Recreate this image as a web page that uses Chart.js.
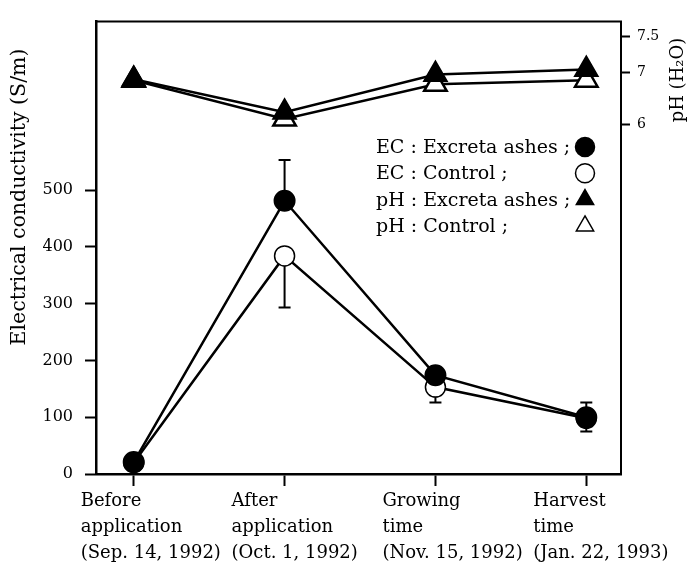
<!DOCTYPE html>
<html>
<head>
<meta charset="utf-8">
<script src="https://cdn.jsdelivr.net/npm/chart.js@4/dist/chart.umd.min.js"></script>
<style>
  html, body { margin: 0; padding: 0; background: #fff; }
  canvas { display: block; }
</style>
</head>
<body>
<canvas id="chart" width="688" height="563"></canvas>
<script>
// sampling stages on the x axis
const stages = [['Before', 'application'], ['After', 'application'], ['Growing', 'time'], ['Harvest', 'time']];
const dates = ['(Sep. 14, 1992)', '(Oct. 1, 1992)', '(Nov. 15, 1992)', '(Jan. 22, 1993)'];

// electrical conductivity (S/m)
const ecExcreta = [21, 481, 174, 100];
const ecControl = [20, 384, 153, 98];
const ecExcretaErr = [0, 72, 0, 26];   // drawn upward
const ecControlErr = [0, 91, 27, 23];  // drawn downward

// pH (H2O)
const phExcreta = [6.87, 6.23, 6.96, 7.04];
const phControl = [6.85, 6.10, 6.77, 6.85];

const ecTicks = [0, 100, 200, 300, 400, 500];
const phTicks = [6, 7, 7.5];

const FONT = 'DejaVu Serif';
Chart.defaults.font.family = FONT;
Chart.defaults.color = '#000';

// the pH axis in the figure is spaced wider above 7 than below it
const PH_KNEE = 7;
const PH_STRETCH = 1.385;
class PhScale extends Chart.LinearScale {
    static id = 'phscale';
    getPixelForValue(value) {
        if (value === null || value === undefined || isNaN(value)) return NaN;
        const v = value > PH_KNEE ? PH_KNEE + (value - PH_KNEE) * PH_STRETCH : value;
        return super.getPixelForValue(v);
    }
}
Chart.register(PhScale);

const toPoints = arr => arr.map((v, i) => ({ x: i, y: v }));

// top edge of the frame
const framePlugin = {
    id: 'frame',
    beforeDatasetsDraw(chart) {
        const { ctx, chartArea } = chart;
        ctx.save();
        ctx.strokeStyle = '#000';
        ctx.lineWidth = 2;
        ctx.beginPath();
        ctx.moveTo(chartArea.left, chartArea.top);
        ctx.lineTo(chartArea.right + 1, chartArea.top);
        ctx.stroke();
        ctx.restore();
    }
};

// one-sided error bars
const errorBarPlugin = {
    id: 'errorBars',
    beforeDatasetsDraw(chart) {
        const ctx = chart.ctx;
        const xs = chart.scales.x;
        ctx.save();
        ctx.strokeStyle = '#000';
        ctx.lineWidth = 2;
        chart.data.datasets.forEach(ds => {
            if (!ds.errors) return;
            const ys = chart.scales[ds.yAxisID];
            ds.errors.forEach((e, i) => {
                if (!e) return;
                const x = xs.getPixelForValue(i);
                const v = ds.data[i].y;
                const y0 = ys.getPixelForValue(v);
                const y1 = ys.getPixelForValue(v + ds.errorDir * e);
                ctx.beginPath();
                ctx.moveTo(x, y0);
                ctx.lineTo(x, y1);
                ctx.moveTo(x - 6, y1);
                ctx.lineTo(x + 6, y1);
                ctx.stroke();
            });
        });
        ctx.restore();
    }
};

// both axis titles read bottom-to-top
const axisTitlePlugin = {
    id: 'axisTitles',
    afterDraw(chart, args, opts) {
        const ctx = chart.ctx;
        ctx.save();
        ctx.fillStyle = '#000';
        ctx.textAlign = 'center';
        ctx.textBaseline = 'middle';
        opts.items.forEach(t => {
            ctx.save();
            ctx.font = t.size + 'px "' + FONT + '"';
            ctx.translate(t.x, t.y);
            ctx.rotate(-Math.PI / 2);
            ctx.fillText(t.text, 0, 0);
            ctx.restore();
        });
        ctx.restore();
    }
};

// legend: text on the left, symbol in a column on the right
const legendPlugin = {
    id: 'sideLegend',
    afterDraw(chart, args, opts) {
        const ctx = chart.ctx;
        ctx.save();
        ctx.font = opts.size + 'px "' + FONT + '"';
        ctx.textAlign = 'left';
        ctx.textBaseline = 'alphabetic';
        chart.data.datasets.forEach((ds, i) => {
            const y = opts.y + i * opts.rowHeight;
            ctx.fillStyle = '#000';
            ctx.fillText(ds.label, opts.x, y);
            ctx.fillStyle = ds.pointBackgroundColor;
            ctx.strokeStyle = '#000';
            ctx.lineWidth = 1.5;
            Chart.helpers.drawPoint(ctx, {
                pointStyle: ds.pointStyle,
                rotation: 0,
                radius: ds.pointStyle === 'triangle' ? 10 : 9.5,
                borderWidth: 1.5
            }, opts.symbolX, y - 6);
        });
        ctx.restore();
    }
};

new Chart(document.getElementById('chart'), {
    type: 'line',
    data: {
        datasets: [{
            label: 'EC : Excreta ashes ;',
            data: toPoints(ecExcreta),
            yAxisID: 'ec',
            pointStyle: 'circle',
            pointRadius: 10,
            pointBackgroundColor: '#000',
            errors: ecExcretaErr,
            errorDir: 1
        }, {
            label: 'EC : Control ;',
            data: toPoints(ecControl),
            yAxisID: 'ec',
            pointStyle: 'circle',
            pointRadius: 10,
            pointBorderWidth: 1.5,
            pointBackgroundColor: '#fff',
            errors: ecControlErr,
            errorDir: -1
        }, {
            label: 'pH : Excreta ashes ;',
            data: toPoints(phExcreta),
            yAxisID: 'ph',
            pointStyle: 'triangle',
            pointRadius: 13,
            pointBackgroundColor: '#000'
        }, {
            label: 'pH : Control ;',
            data: toPoints(phControl),
            yAxisID: 'ph',
            pointStyle: 'triangle',
            pointRadius: 13,
            pointBorderWidth: 2.5,
            pointBackgroundColor: '#fff'
        }]
    },
    options: {
        responsive: false,
        animation: false,
        events: [],
        layout: { padding: { top: 20, left: 0, right: 0, bottom: 0 } },
        elements: {
            line: { borderColor: '#000', borderWidth: 2.5, tension: 0, fill: false },
            point: { borderColor: '#000', borderWidth: 2 }
        },
        plugins: {
            legend: { display: false },
            tooltip: { enabled: false },
            axisTitles: {
                items: [
                    { text: 'Electrical conductivity (S/m)', x: 20, y: 197, size: 20.5 },
                    { text: 'pH (H\u2082O)', x: 678, y: 80, size: 18 }
                ]
            },
            sideLegend: { x: 376, symbolX: 585, y: 153, rowHeight: 26.3, size: 19 }
        },
        scales: {
            x: {
                type: 'linear',
                min: -0.25,
                max: 3.23,
                afterBuildTicks: s => { s.ticks = stages.map((_, i) => ({ value: i })); },
                afterFit: s => { s.height = 89; s.paddingLeft = 0; s.paddingRight = 0; },
                border: { color: '#000', width: 2.5 },
                grid: { drawOnChartArea: false, tickLength: 12, tickWidth: 2, tickColor: '#000' },
                ticks: {
                    autoSkip: false,
                    maxRotation: 0,
                    minRotation: 0,
                    align: 'start',
                    labelOffset: -53,
                    padding: 2,
                    font: { size: 18, lineHeight: 1.45 },
                    callback: v => [...stages[v], dates[v]]
                }
            },
            ec: {
                type: 'linear',
                position: 'left',
                min: 0,
                max: 796.5,
                afterBuildTicks: s => { s.ticks = ecTicks.map(v => ({ value: v })); },
                afterFit: s => { s.width = 96; },
                border: { color: '#000', width: 2.5 },
                grid: { drawOnChartArea: false, tickLength: 11, tickWidth: 2, tickColor: '#000' },
                ticks: { padding: 12, font: { size: 16 }, callback: v => String(v) }
            },
            ph: {
                type: 'phscale',
                position: 'right',
                min: -0.75,
                max: 7.981,
                afterBuildTicks: s => { s.ticks = phTicks.map(v => ({ value: v })); },
                afterFit: s => { s.width = 67; },
                border: { color: '#000', width: 2 },
                grid: { drawOnChartArea: false, tickLength: 9, tickWidth: 2, tickColor: '#000' },
                ticks: { padding: 7, font: { size: 14 }, callback: v => String(v) }
            }
        }
    },
    plugins: [framePlugin, errorBarPlugin, axisTitlePlugin, legendPlugin]
});
</script>
</body>
</html>
